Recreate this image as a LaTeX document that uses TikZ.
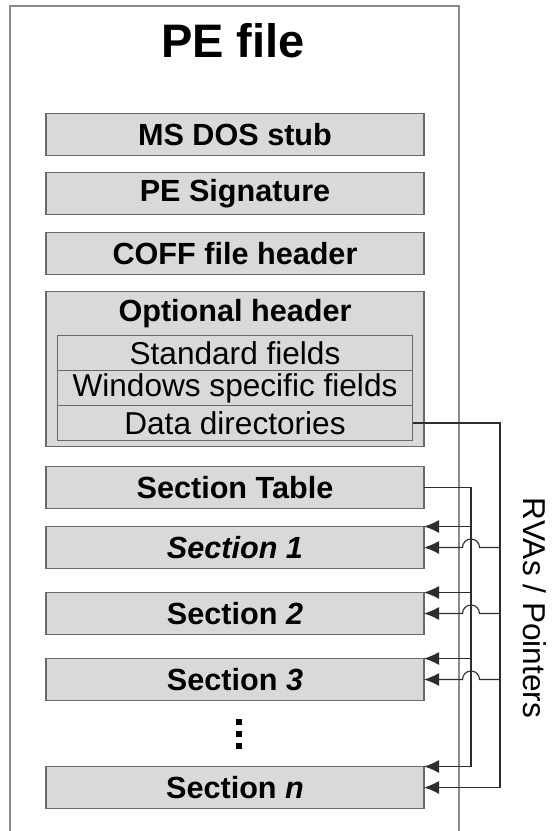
\documentclass[tikz,border=0pt]{standalone}
\usepackage{fontspec}
\setmainfont{Liberation Sans}
\usetikzlibrary{arrows.meta, positioning, calc}
\definecolor{boxfill}{RGB}{217,217,217}
\definecolor{boxline}{RGB}{105,105,105}
\definecolor{frameline}{RGB}{140,140,140}
\definecolor{wire}{RGB}{45,45,45}

\begin{document}
\begin{tikzpicture}[
    x=1pt, y=-1pt,
    secbox/.style={draw=boxline, fill=boxfill, line width=0.8pt, minimum width=189pt,
                   minimum height=21pt, inner sep=0pt, outer sep=0pt, align=center,
                   font=\fontsize{15.3}{18}\selectfont\bfseries},
    optbox/.style={secbox, minimum height=77.5pt},
    rowbox/.style={draw=boxline, line width=0.6pt, minimum width=177.5pt, minimum height=17.5pt,
                   inner sep=0pt, outer sep=0pt, font=\fontsize{15.8}{18}\selectfont},
    conn/.style={draw=wire, line width=0.55pt, -{Latex[length=7.5pt, width=6.5pt]}},
    bus/.style={draw=wire, line width=0.55pt}
]
    \useasboundingbox (0,0) rectangle (277.5,415.5);
    % outer file frame, open at the bottom
    \draw[frameline, line width=0.8pt] (5,416) -- (5,3) -- (229.5,3) -- (229.5,416);
    \node[font=\fontsize{23.5}{28}\selectfont\bfseries] (title) at (116.5,20.5) {PE file};

    % Headers
    \node[secbox] (dos) at (117.5,67.25) {MS DOS stub};
    \node[secbox, below=8.5pt of dos] (sig) {PE Signature};
    \node[secbox, below=9pt of sig] (coff) {COFF file header};
    \node[optbox, below=8.5pt of coff] (opt) {};
    \node[font=\fontsize{15.3}{18}\selectfont\bfseries] (opthd) at ($(opt.north)+(0,11)$) {Optional header};
    \node[rowbox, anchor=north] (std) at ($(opt.north)+(0,22)$) {Standard fields};
    \node[rowbox, below=0pt of std] (win) {Windows specific fields};
    \node[rowbox, below=0pt of win] (dd) {Data directories};

    % Sections
    \node[secbox, below=10pt of opt] (tab) {Section Table};
    \node[secbox, below=9pt of tab] (s1) {\textit{Section 1}};
    \node[secbox, below=12pt of s1] (s2) {Section \textit{2}};
    \node[secbox, below=12pt of s2] (s3) {Section \textit{3}};
    \node[secbox, below=33pt of s3] (sn) {Section \textit{n}};
    \coordinate (dots) at ($($(s3.south)!0.5!(sn.north)$)+(2,0)$);
    \foreach \k in {-6,0,6}
        \fill ($(dots)+(-1.5,\k-1.5)$) rectangle ++(3,3);

    % RVA buses
    \coordinate (tbus) at ($(tab.east)+(23.5,0)$);
    \coordinate (dbus) at ($(tab.east)+(38,0)$);
    \draw[conn] (tab.east) -| (tbus |- sn.north east) -- (sn.north east);
    \draw[conn] (dd.east) -| (dbus |- sn.east) -- (sn.east);
    \foreach \s in {s1,s2,s3} {
        \draw[conn] (tbus |- \s.north east) -- (\s.north east);
        \draw[conn] (dbus |- \s.east) -- ($(tbus |- \s.east)+(4.25,0)$)
            arc[start angle=0, end angle=180, radius=4.25pt] -- (\s.east);
    }
    \node[rotate=-90, font=\fontsize{15.8}{18}\selectfont] (rva) at (267.5,304) {RVAs / Pointers};
\end{tikzpicture}
\end{document}
